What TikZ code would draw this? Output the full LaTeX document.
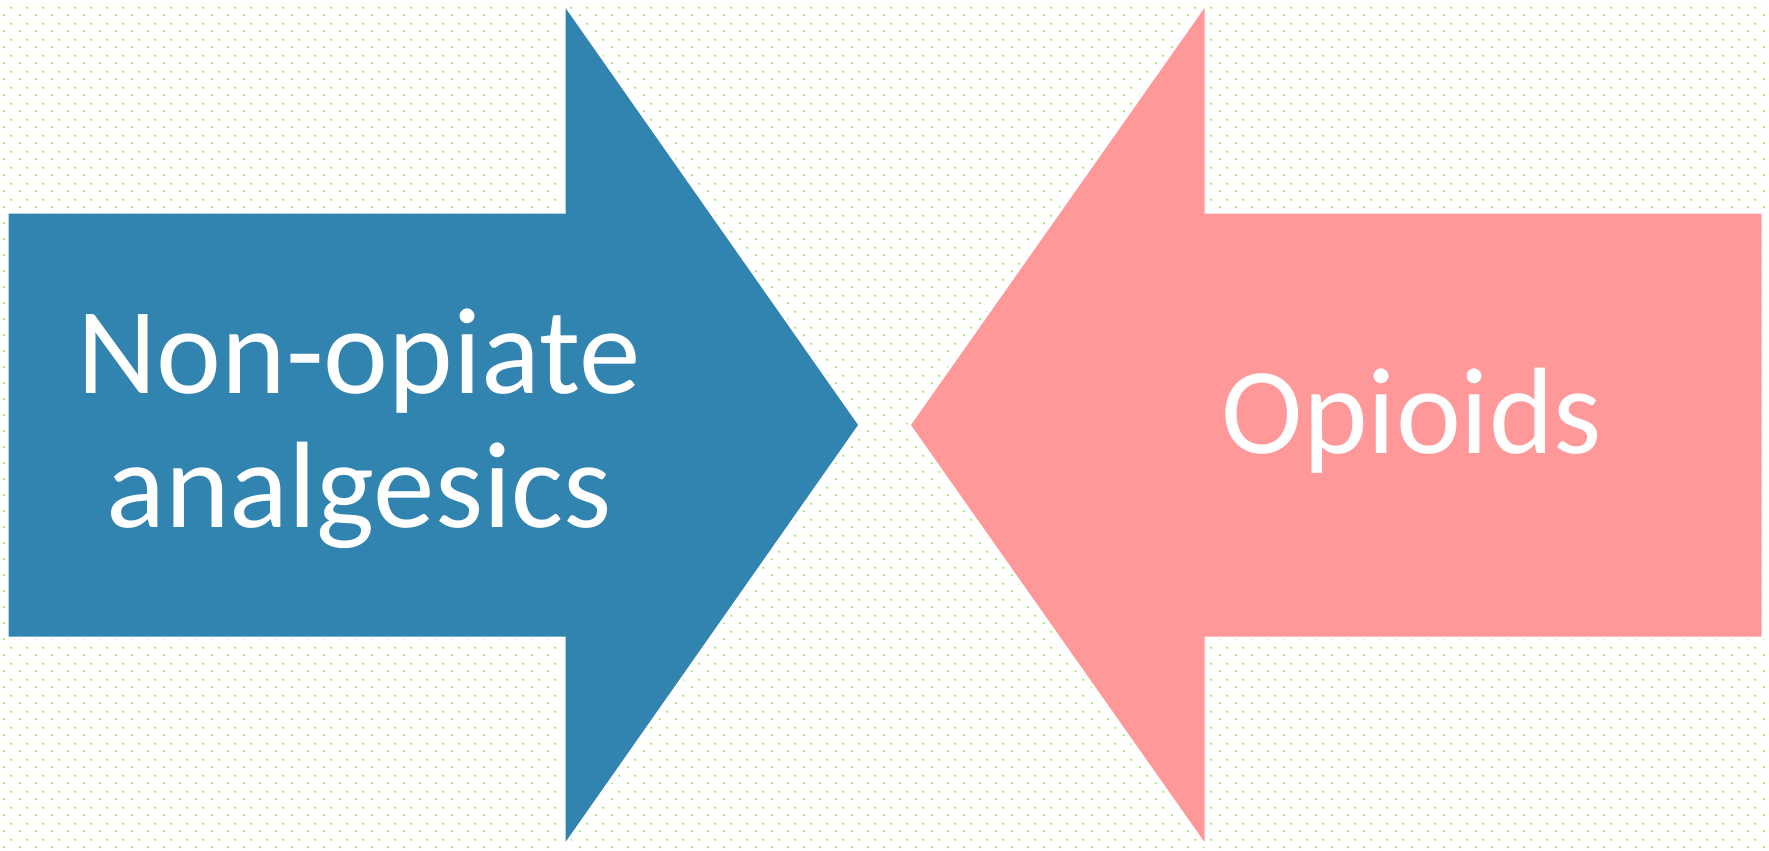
\documentclass[tikz,border=0pt]{standalone}
\usepackage{fontspec}
\setmainfont{Carlito}
\usetikzlibrary{patterns}
\definecolor{arrowblue}{RGB}{50,132,176}
\definecolor{arrowpink}{RGB}{255,153,153}
\definecolor{dotgreen}{RGB}{160,230,80}
\pgfdeclarepatternformonly{dotgrid}{\pgfpoint{0pt}{0pt}}{\pgfpoint{16pt}{16pt}}{\pgfpoint{16pt}{16pt}}{%
  \pgfpathrectangle{\pgfpoint{4pt}{4pt}}{\pgfpoint{2pt}{2pt}}%
  \pgfpathrectangle{\pgfpoint{12pt}{12pt}}{\pgfpoint{2pt}{2pt}}%
  \pgfusepath{fill}}
\tikzset{
  arrowshape/.style={draw=white, line width=3pt, line join=miter},
  label/.style={text=white, font=\fontsize{123}{134}\selectfont, align=center}
}
\begin{document}
\begin{tikzpicture}[x=1pt,y=-1pt]
\useasboundingbox (0,0) rectangle (1769,851);
\fill[white] (0,0) rectangle (1769,851);
\fill[pattern=dotgrid, pattern color=dotgreen] (0,0) rectangle (1769,851);
% blue arrow (right-pointing)
\filldraw[arrowshape, fill=arrowblue]
  (7,212) -- (564,212) -- (564,3) -- (860,425) -- (564,847) -- (564,638) -- (7,638) -- cycle;
% pink arrow (left-pointing)
\filldraw[arrowshape, fill=arrowpink]
  (1763,212) -- (1206,212) -- (1206,3) -- (909,425) -- (1206,847) -- (1206,638) -- (1763,638) -- cycle;
\node[label] (nonopiate) at (359,429) {Non-opiate\\analgesics};
\node[label] (opioids) at (1412,421) {Opioids};
\end{tikzpicture}
\end{document}
